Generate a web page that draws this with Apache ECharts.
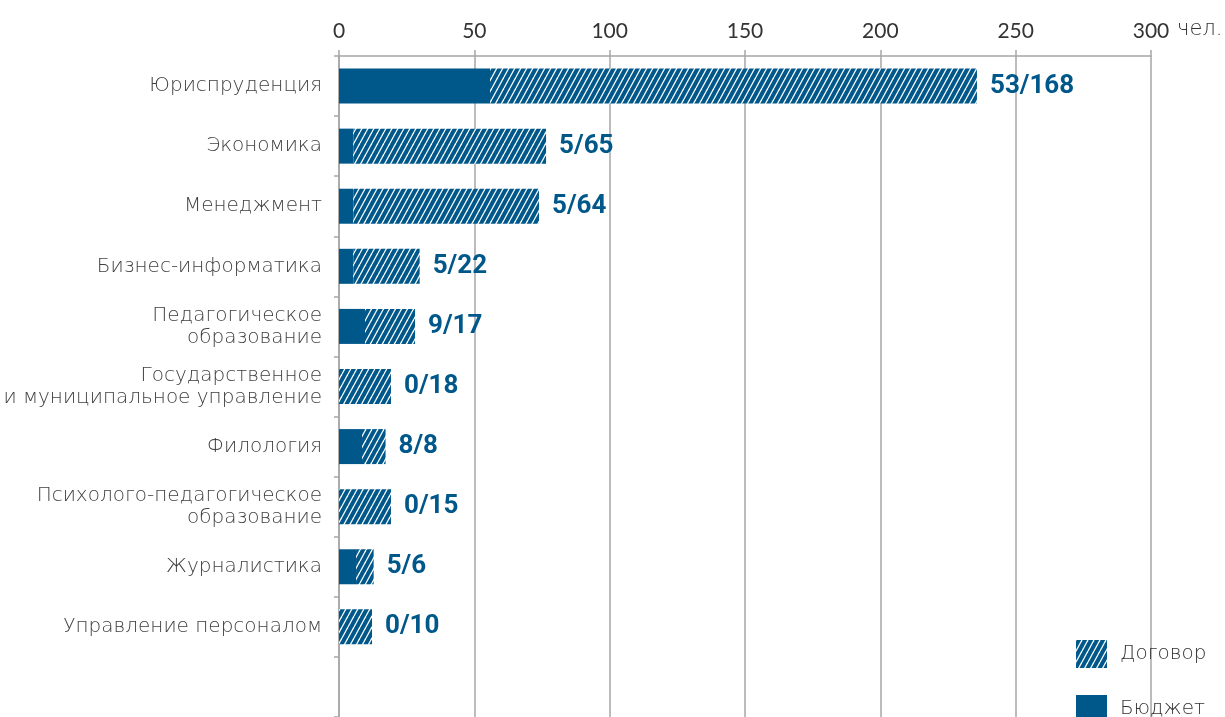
<!DOCTYPE html>
<html>
<head>
<meta charset="utf-8">
<script src="https://cdn.jsdelivr.net/npm/echarts@6/dist/echarts.min.js"></script>
<style>
    html, body { margin: 0; padding: 0; background: #fff; }
    #chart { width: 1225px; height: 717px; }
</style>
</head>
<body>
<div id="chart"></div>
<script>
    // направления подготовки (последняя строка пустая, как на исходнике)
    var categories = [
        'Юриспруденция',
        'Экономика',
        'Менеджмент',
        'Бизнес-информатика',
        'Педагогическое\nобразование',
        'Государственное\nи муниципальное управление',
        'Филология',
        'Психолого-педагогическое\nобразование',
        'Журналистика',
        'Управление персоналом',
        ''
    ];
    // длины столбцов
    var budget = [55.8, 5.3, 5.3, 5.3, 9.6, 0, 8.5, 0, 6.3, 0];
    var contract = [179.9, 71.2, 68.6, 24.5, 18.5, 19.2, 8.7, 19.2, 6.5, 12.2];
    // подписи «бюджет/договор»
    var labels = ['53/168', '5/65', '5/64', '5/22', '9/17', '0/18', '8/8', '0/15', '5/6', '0/10'];
    var xTicks = [0, 50, 100, 150, 200, 250, 300];

    var blue = '#00578a';
    var catFont = 'DejaVu Sans';

    // штриховка для «Договор»
    function hatch() {
        var w = 6, h = 11;
        var c = document.createElement('canvas');
        c.width = w; c.height = h;
        var ctx = c.getContext('2d');
        ctx.fillStyle = blue;
        ctx.fillRect(0, 0, w, h);
        ctx.strokeStyle = '#fff';
        ctx.lineWidth = 1.3;
        [-w, 0, w].forEach(function (dx) {
            ctx.beginPath();
            ctx.moveTo(dx, h);
            ctx.lineTo(dx + w, 0);
            ctx.stroke();
        });
        return c;
    }

    var legendBase = {
        orient: 'vertical',
        left: 1071,
        itemWidth: 31,
        itemHeight: 28,
        icon: 'rect',
        textStyle: {
            fontFamily: catFont,
            fontWeight: 200,
            fontSize: 20,
            color: '#333',
            padding: [0, 0, 0, 8]
        }
    };

    var chart = echarts.init(document.getElementById('chart'));
    chart.setOption({
        backgroundColor: '#fff',
        animation: false,
        legend: [
            Object.assign({}, legendBase, { top: 635, data: ['Договор'] }),
            Object.assign({}, legendBase, { top: 690, data: ['Бюджет'] })
        ],
        graphic: [{
            type: 'text',
            left: 1177,
            top: 19,
            style: {
                text: 'чел.',
                font: '200 21px "DejaVu Sans"',
                fill: '#333'
            }
        }],
        grid: {
            left: 339,
            top: 56,
            width: 812,
            height: 667
        },
        xAxis: {
            type: 'value',
            position: 'top',
            min: xTicks[0],
            max: xTicks[xTicks.length - 1],
            interval: 50,
            axisLine: { show: true, lineStyle: { color: '#a6a6a6', width: 1.5 } },
            axisTick: { show: true, length: 6, lineStyle: { color: '#a6a6a6', width: 1.5 } },
            splitLine: { show: true, lineStyle: { color: '#a6a6a6', width: 1.5 } },
            axisLabel: {
                margin: 14,
                fontFamily: 'Lato',
                fontSize: 21,
                color: '#333'
            }
        },
        yAxis: {
            type: 'category',
            inverse: true,
            data: categories,
            axisLine: { show: true, lineStyle: { color: '#a6a6a6', width: 1.5 } },
            axisTick: { show: true, length: 5, alignWithLabel: false, lineStyle: { color: '#a6a6a6', width: 1.5 } },
            axisLabel: {
                margin: 17,
                fontFamily: catFont,
                fontWeight: 200,
                fontSize: 20,
                lineHeight: 22,
                color: '#404040',
                align: 'right'
            }
        },
        series: [{
            name: 'Бюджет',
            type: 'bar',
            stack: 'all',
            barWidth: 35,
            itemStyle: { color: blue },
            data: budget
        }, {
            name: 'Договор',
            type: 'bar',
            stack: 'all',
            barWidth: 35,
            itemStyle: { color: { image: hatch(), repeat: 'repeat' } },
            label: {
                show: true,
                position: 'right',
                distance: 13,
                fontFamily: 'Roboto',
                fontWeight: 'bold',
                fontSize: 26,
                color: blue,
                formatter: function (p) { return labels[p.dataIndex]; }
            },
            data: contract
        }]
    });
</script>
</body>
</html>
